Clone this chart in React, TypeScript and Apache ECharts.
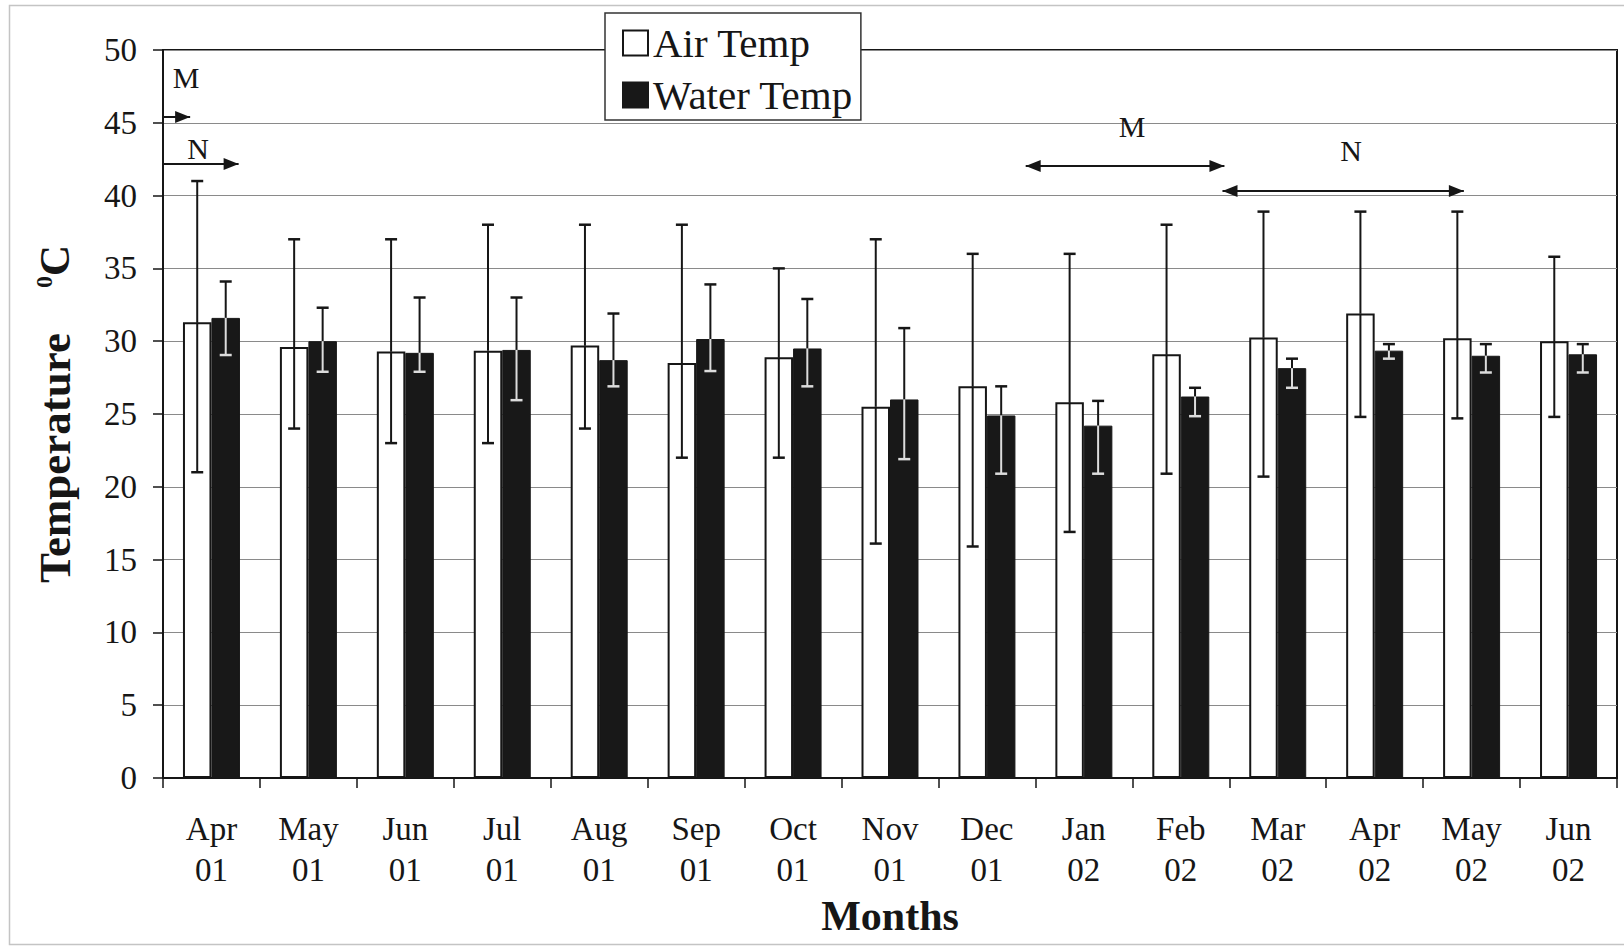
import React, { useEffect, useRef } from 'react';
import * as echarts from 'echarts';

const categories = ['Apr 01', 'May 01', 'Jun 01', 'Jul 01', 'Aug 01', 'Sep 01', 'Oct 01', 'Nov 01', 'Dec 01', 'Jan 02', 'Feb 02', 'Mar 02', 'Apr 02', 'May 02', 'Jun 02'];
const airMean = [31.3, 29.6, 29.3, 29.35, 29.7, 28.5, 28.9, 25.5, 26.9, 25.8, 29.1, 30.25, 31.9, 30.2, 30.0];
const airHigh = [41, 37, 37, 38, 38, 38, 35, 37, 36, 36, 38, 38.9, 38.9, 38.9, 35.8];
const airLow = [21, 24, 23, 23, 24, 22, 22, 16.1, 15.9, 16.9, 20.9, 20.7, 24.8, 24.7, 24.8];
const waterMean = [31.6, 30.0, 29.2, 29.4, 28.7, 30.15, 29.5, 26.0, 24.9, 24.2, 26.2, 28.15, 29.35, 29.0, 29.1];
const waterHigh = [34.1, 32.3, 33, 33, 31.9, 33.9, 32.9, 30.9, 26.9, 25.9, 26.8, 28.8, 29.8, 29.8, 29.8];
const waterLow = [29.05, 27.9, 27.9, 25.95, 26.9, 27.95, 26.9, 21.9, 20.9, 20.9, 24.85, 26.8, 28.8, 27.85, 27.85];
const seriesNames = ['Air Temp', 'Water Temp'];

const FONT = "'Liberation Serif', 'Times New Roman', serif";
const INK = '#161616';

const G_LEFT = 163;
const G_RIGHT = 7;
const G_TOP = 50;
const G_BOTTOM = 172;

function errorSeries(name: string, high: number[], low: number[], mean: number[], side: number, inner: string) {
  return {
    type: 'custom',
    name,
    z: 6,
    silent: true,
    clip: false,
    data: high.map((h, i) => [i, h, low[i], mean[i]]),
    encode: { x: 0, y: [1, 2] },
    renderItem: (params: any, api: any) => {
      const i = api.value(0);
      const bw = api.size([1, 0])[0];
      const off = side * bw * 0.147;
      const pH = api.coord([i, api.value(1)]);
      const pL = api.coord([i, api.value(2)]);
      const pM = api.coord([i, api.value(3)]);
      const x = pH[0] + off;
      const cap = 6;
      return {
        type: 'group',
        children: [
          { type: 'line', shape: { x1: x, y1: pH[1], x2: x, y2: pM[1] }, style: { stroke: INK, lineWidth: 2 } },
          { type: 'line', shape: { x1: x, y1: pM[1], x2: x, y2: pL[1] }, style: { stroke: inner, lineWidth: 2 } },
          { type: 'line', shape: { x1: x - cap, y1: pH[1], x2: x + cap, y2: pH[1] }, style: { stroke: INK, lineWidth: 2.5 } },
          { type: 'line', shape: { x1: x - cap, y1: pL[1], x2: x + cap, y2: pL[1] }, style: { stroke: inner, lineWidth: 2.5 } },
        ],
      };
    },
  };
}

function arrowHead(tipX: number, y: number, dir: number) {
  return {
    type: 'polygon',
    z: 20,
    shape: { points: [[tipX, y], [tipX - dir * 15, y - 6], [tipX - dir * 15, y + 6]] },
    style: { fill: INK },
  };
}

function arrow(x1: number, x2: number, y: number, both: boolean) {
  const els: any[] = [
    { type: 'line', z: 20, shape: { x1, y1: y, x2, y2: y }, style: { stroke: INK, lineWidth: 2 } },
    arrowHead(x2, y, 1),
  ];
  if (both) els.push(arrowHead(x1, y, -1));
  return els;
}

function label(text: string, x: number, y: number) {
  return {
    type: 'text',
    z: 20,
    x,
    y,
    style: { text, font: `30px ${FONT}`, fill: INK, textAlign: 'center', textVerticalAlign: 'middle' },
  };
}

export default function App() {
  const ref = useRef<HTMLDivElement>(null);
  useEffect(() => {
    if (!ref.current) return;
    const chart = echarts.init(ref.current, null, { renderer: 'svg' });
    const plotW = 1624 - G_LEFT - G_RIGHT;
    const catW = plotW / categories.length;
    const cx = (idx: number) => G_LEFT + catW * idx;
    chart.setOption({
      animation: false,
      backgroundColor: '#fff',
      grid: {
        left: G_LEFT,
        right: G_RIGHT,
        top: G_TOP,
        bottom: G_BOTTOM,
        show: true,
        borderColor: INK,
        borderWidth: 2,
        backgroundColor: '#fff',
      },
      legend: {
        data: seriesNames,
        orient: 'vertical',
        left: 605,
        top: 13,
        padding: [9, 8, 4, 17],
        itemGap: 10,
        itemWidth: 25,
        itemHeight: 25,
        icon: 'rect',
        backgroundColor: '#fff',
        borderColor: '#333',
        borderWidth: 1.5,
        textStyle: { fontFamily: FONT, fontSize: 41, lineHeight: 42, color: INK },
      },
      xAxis: {
        type: 'category',
        data: categories,
        name: 'Months',
        nameLocation: 'middle',
        nameGap: 117,
        nameTextStyle: { fontFamily: FONT, fontSize: 42, fontWeight: 'bold', color: INK },
        axisLine: { lineStyle: { color: INK, width: 2 } },
        axisTick: { show: true, length: 10, lineStyle: { color: INK, width: 1.5 } },
        axisLabel: {
          formatter: (v: string) => v.replace(' ', '\n'),
          fontFamily: FONT,
          fontSize: 33,
          lineHeight: 41,
          color: INK,
          margin: 30,
        },
      },
      yAxis: {
        type: 'value',
        min: 0,
        max: 50,
        interval: 5,
        name: '{t|Temperature}{g|    }{s|0}{c|C}',
        nameLocation: 'middle',
        nameGap: 86,
        nameTextStyle: {
          fontFamily: FONT,
          color: INK,
          rich: {
            t: { fontFamily: FONT, fontSize: 45, fontWeight: 'bold', color: INK },
            g: { fontFamily: FONT, fontSize: 45, color: INK },
            c: { fontFamily: FONT, fontSize: 43, fontWeight: 'bold', color: INK },
            s: { fontFamily: FONT, fontSize: 24, fontWeight: 'bold', color: INK, verticalAlign: 'top' },
          },
        },
        axisLine: { show: true, lineStyle: { color: INK, width: 2 } },
        axisTick: { show: true, length: 10, lineStyle: { color: INK, width: 1.5 } },
        axisLabel: { fontFamily: FONT, fontSize: 33, color: INK, margin: 26 },
        splitLine: { show: true, lineStyle: { color: '#8a8a8a', width: 1.2 } },
      },
      series: [
        {
          type: 'bar',
          name: seriesNames[0],
          data: airMean,
          barWidth: '29.4%',
          barGap: '0%',
          itemStyle: { color: '#fff', borderColor: INK, borderWidth: 2 },
        },
        {
          type: 'bar',
          name: seriesNames[1],
          data: waterMean,
          barWidth: '29.4%',
          barGap: '0%',
          itemStyle: { color: '#181818', borderColor: '#181818', borderWidth: 1 },
        },
        errorSeries('Air Temp range', airHigh, airLow, airMean, -1, INK),
        errorSeries('Water Temp range', waterHigh, waterLow, waterMean, 1, '#dcdcdc'),
      ],
      graphic: [
        {
          type: 'rect',
          z: 0,
          silent: true,
          shape: { x: 9.5, y: 5.5, width: 1640, height: 939 },
          style: { fill: 'none', stroke: '#c4c4c4', lineWidth: 1.5 },
        },
        ...arrow(G_LEFT + 1, cx(0.28), 117, false),
        ...arrow(G_LEFT + 1, cx(0.78), 164, false),
        ...arrow(cx(8.9), cx(10.95), 166, true),
        ...arrow(cx(10.93), cx(13.42), 191, true),
        label('M', 186, 77),
        label('N', 198, 148),
        label('M', 1132, 126),
        label('N', 1351, 150),
      ],
    });
    return () => chart.dispose();
  }, []);
  return <div ref={ref} style={{ position: 'absolute', left: 0, top: 0, width: 1624, height: 950 }} />;
}
